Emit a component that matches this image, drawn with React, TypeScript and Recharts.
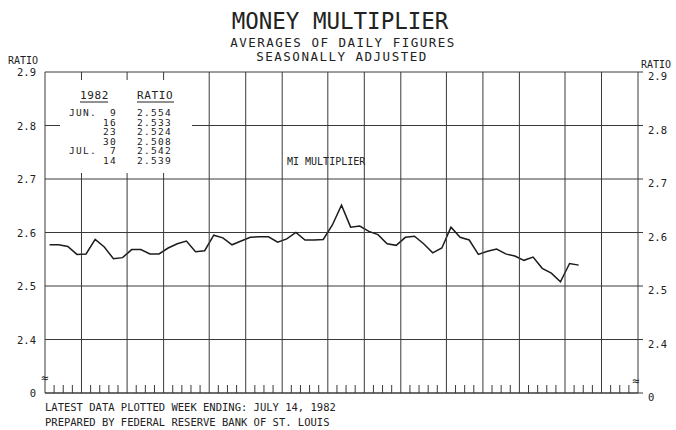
import React from 'react';
import { LineChart, Line, XAxis, YAxis, CartesianGrid } from 'recharts';

// weeks in each month column, Jun 1981 .. Aug 1982 (weeks ending Wednesday)
const weeksPerMonth = [4, 5, 4, 5, 4, 4, 5, 4, 4, 5, 4, 4, 5, 4, 4];

// money multiplier, weekly, Jun 3 1981 .. Jul 14 1982
const ratio = [
  2.577, 2.577, 2.574, 2.559, 2.560, 2.587, 2.573, 2.551, 2.553, 2.568,
  2.568, 2.560, 2.560, 2.571, 2.579, 2.584, 2.564, 2.566, 2.595, 2.590,
  2.577, 2.584, 2.591, 2.592, 2.592, 2.582, 2.588, 2.600, 2.586, 2.586,
  2.587, 2.614, 2.651, 2.610, 2.612, 2.602, 2.596, 2.579, 2.576, 2.591,
  2.593, 2.579, 2.562, 2.571, 2.610, 2.591, 2.586, 2.559, 2.565, 2.569,
  2.560, 2.556, 2.548, 2.554, 2.533, 2.524, 2.508, 2.542, 2.539,
];

const yTicks = [2.3, 2.4, 2.5, 2.6, 2.7, 2.8, 2.9];

const tableMonths = ['JUN.', '', '', '', 'JUL.', ''];
const tableDays = ['9', '16', '23', '30', '7', '14'];
const tableRatios = ['2.554', '2.533', '2.524', '2.508', '2.542', '2.539'];

const totalWeeks = weeksPerMonth.reduce((a, b) => a + b, 0);
const monthEdges = new Set<number>();
weeksPerMonth.reduce((acc, n) => {
  monthEdges.add(acc);
  return acc + n;
}, 0);
const weekTicks = Array.from({ length: totalWeeks + 1 }, (_, i) => i);

const data = ratio.map((v, i) => ({ w: i + 0.5, v }));

const INK = '#222';
const GRID = '#3a3a3a';
const FONT = '"DejaVu Sans Mono", monospace';
const PLOT_H = 321;

const fmt = (v: number) => (v < 2.35 ? '0' : v.toFixed(1));

const WeekTick = (props: any) => {
  const { x, y, payload } = props;
  const w = payload.value;
  if (w === 0 || w === totalWeeks) return null;
  if (monthEdges.has(w)) {
    return <line x1={x} x2={x} y1={y} y2={y - PLOT_H} stroke={GRID} strokeWidth={1} />;
  }
  return <line x1={x} x2={x} y1={y} y2={y - 8} stroke={GRID} strokeWidth={1} />;
};

const LeftTick = (props: any) => {
  const { x, y, payload } = props;
  return (
    <text x={x} y={y + 4} textAnchor="end" fontFamily={FONT} fontSize={10.5} fill={INK}>
      {fmt(payload.value)}
    </text>
  );
};

const RightTick = (props: any) => {
  const { x, y, payload } = props;
  return (
    <text x={x} y={y + 8} textAnchor="start" fontFamily={FONT} fontSize={10.5} fill={INK}>
      {fmt(payload.value)}
    </text>
  );
};

export default function App() {
  return (
    <div style={{ position: 'absolute', left: 0, top: 0, width: 676, height: 430, background: '#fff' }}>
      <LineChart
        width={676}
        height={430}
        data={data}
        margin={{ top: 72, right: 37, bottom: 36, left: 44 }}
      >
        <CartesianGrid yAxisId="left" horizontal vertical={false} stroke={GRID} strokeWidth={1} />
        <XAxis
          dataKey="w"
          type="number"
          domain={[0, totalWeeks]}
          ticks={weekTicks}
          interval={0}
          tick={<WeekTick />}
          tickLine={false}
          tickSize={0}
          tickMargin={0}
          height={1}
          axisLine={{ stroke: GRID }}
          allowDataOverflow
        />
        <YAxis
          yAxisId="left"
          orientation="left"
          domain={[2.3, 2.9]}
          ticks={yTicks}
          interval={0}
          width={1}
          tickSize={0}
          tickMargin={9}
          tickLine={false}
          tick={<LeftTick />}
          axisLine={{ stroke: GRID }}
          allowDataOverflow
        />
        <YAxis
          yAxisId="right"
          orientation="right"
          domain={[2.3, 2.9]}
          ticks={yTicks}
          interval={0}
          width={1}
          tickSize={5}
          tickMargin={5}
          tickLine={{ stroke: GRID }}
          tick={<RightTick />}
          axisLine={{ stroke: GRID }}
          allowDataOverflow
        />
        <Line
          yAxisId="left"
          dataKey="v"
          type="linear"
          stroke="#1c1c1c"
          strokeWidth={1.5}
          dot={false}
          isAnimationActive={false}
        />
      </LineChart>

      <svg
        width={676}
        height={430}
        style={{ position: 'absolute', left: 0, top: 0, pointerEvents: 'none' }}
        fontFamily={FONT}
        fill={INK}
      >
        <text x={340} y={29} textAnchor="middle" fontSize={22.5}>MONEY MULTIPLIER</text>
        <text x={343} y={47} textAnchor="middle" fontSize={12.5} letterSpacing={1.5}>AVERAGES OF DAILY FIGURES</text>
        <text x={342} y={61} textAnchor="middle" fontSize={12.5} letterSpacing={1.5}>SEASONALLY ADJUSTED</text>

        <text x={8} y={64} fontSize={10}>RATIO</text>
        <text x={641} y={68} fontSize={10}>RATIO</text>

        <rect x={60} y={80} width={132} height={93} fill="#fff" />
        <text x={80} y={99} fontSize={11} letterSpacing={0.6}>1982</text>
        <line x1={80} x2={108} y1={102} y2={102} stroke={INK} strokeWidth={1} />
        <text x={137} y={99} fontSize={11} letterSpacing={0.6}>RATIO</text>
        <line x1={137} x2={174} y1={102} y2={102} stroke={INK} strokeWidth={1} />
        {tableDays.map((d, i) => (
          <g key={i}>
            {tableMonths[i] && (
              <text x={69} y={116 + i * 9.5} fontSize={9.5} letterSpacing={1.3}>{tableMonths[i]}</text>
            )}
            <text x={117} y={116 + i * 9.5} textAnchor="end" fontSize={9.5} letterSpacing={1.3}>{d}</text>
            <text x={137} y={116 + i * 9.5} fontSize={9.5} letterSpacing={1.3}>{tableRatios[i]}</text>
          </g>
        ))}

        <text x={287} y={165} fontSize={10}>MI MULTIPLIER</text>

        <text x={41} y={382} fontSize={12}>≈</text>
        <text x={632} y={385} fontSize={12}>≈</text>

        <text x={45} y={411} fontSize={10.5}>LATEST DATA PLOTTED WEEK ENDING: JULY 14, 1982</text>
        <text x={45} y={426} fontSize={10.5}>PREPARED BY FEDERAL RESERVE BANK OF ST. LOUIS</text>
      </svg>
    </div>
  );
}
